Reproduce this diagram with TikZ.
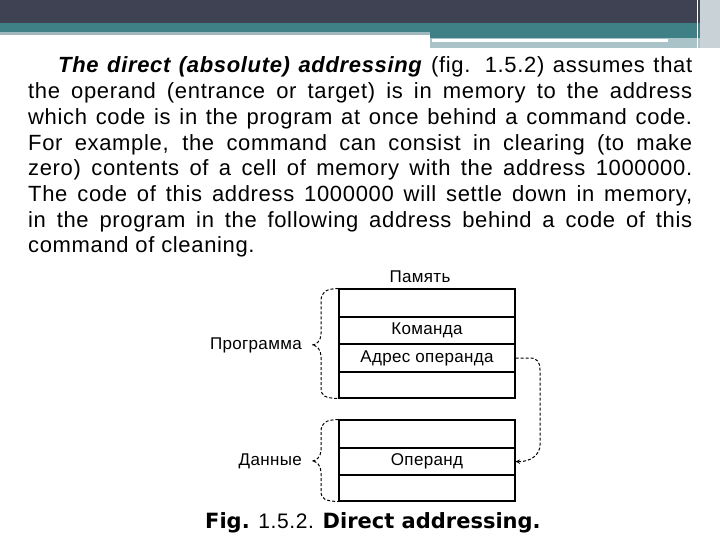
\documentclass[tikz,border=0pt]{standalone}
\usepackage{fontspec}
\setmainfont{Liberation Sans}[LetterSpace=3]
\newfontfamily\capfont{DejaVu Sans}
\newfontfamily\lblfont{Liberation Sans}[LetterSpace=2]
\begin{document}
\begin{tikzpicture}[x=1pt,y=-1pt,
  txt/.style={anchor=base west,inner sep=0pt,font=\fontsize{22}{24}\selectfont},
  lbl/.style={inner sep=0pt,font=\lblfont\fontsize{17}{19}\selectfont},
  cell/.style={draw,line width=1.1pt,minimum width=176pt,inner sep=0pt,font=\lblfont\fontsize{17}{19}\selectfont},
  dsh/.style={dashed,line width=1pt,dash pattern=on 3pt off 2pt}]
\useasboundingbox (0,0) rectangle (720,540);
\fill[white] (0,0) rectangle (720,540);
% header
\fill[fill={rgb,255:red,62;green,66;blue,83}] (0,0) rectangle (720,23);
\fill[fill={rgb,255:red,63;green,127;blue,134}] (0,23) rectangle (720,32);
\fill[fill={rgb,255:red,160;green,185;blue,192}] (0,32) rectangle (430,35);
\fill[fill={rgb,255:red,63;green,127;blue,134}] (430,32) rectangle (720,38);
\fill[fill={rgb,255:red,170;green,195;blue,200}] (430,38) rectangle (700,48);
\fill[white] (432,39) rectangle (668,42);
\fill[fill={rgb,255:red,200;green,210;blue,215}] (700,0) rectangle (720,48);
\draw[white,line width=1pt] (697,0) -- (697,48);
% text
\node[txt] (l1) at (58,73) {\makebox[634pt][s]{\textbf{\textit{The direct (absolute) addressing}} (fig. 1.5.2) assumes that}};
\node[txt] (l2) at (28,98.7) {\makebox[664pt][s]{the operand (entrance or target) is in memory to the address}};
\node[txt] (l3) at (28,124.4) {\makebox[664pt][s]{which code is in the program at once behind a command code.}};
\node[txt] (l4) at (28,150.1) {\makebox[664pt][s]{For example, the command can consist in clearing (to make}};
\node[txt] (l5) at (28,175.8) {\makebox[664pt][s]{zero) contents of a cell of memory with the address 1000000.}};
\node[txt] (l6) at (28,201.5) {\makebox[664pt][s]{The code of this address 1000000 will settle down in memory,}};
\node[txt] (l7) at (28,227.2) {\makebox[664pt][s]{in the program in the following address behind a code of this}};
\node[txt] (l8) at (28,252.9) {command of cleaning.};
% diagram
\node[lbl] (mem) at (420,277) {Память};
\node[cell,minimum height=28pt] (c1) at (427,303) {};
\node[cell,minimum height=27pt] (c2) at (427,330.5) {Команда};
\node[cell,minimum height=28pt] (c3) at (427,358) {Адрес операнда};
\node[cell,minimum height=26pt] (c4) at (427,385) {};
\node[cell,minimum height=28pt] (d1) at (427,434) {};
\node[cell,minimum height=27pt] (d2) at (427,461.5) {Операнд};
\node[cell,minimum height=26pt] (d3) at (427,488) {};
\node[lbl,anchor=east] (prog) at (302,345) {Программа};
\node[lbl,anchor=east] (dat) at (302,461) {Данные};
% braces
\coordinate (pt) at (312,345);
\draw[dsh] (c1.north west) .. controls (325,289) and (321,292) .. (321,302) -- (321,334) .. controls (321,341) and (316,345) .. (pt)
  .. controls (316,345) and (321,349) .. (321,356) -- (321,388) .. controls (321,396) and (325,398) .. (c4.south west);
\coordinate (dt) at (312,461);
\draw[dsh] (d1.north west) .. controls (325,420) and (321,423) .. (321,432) -- (321,450) .. controls (321,457) and (316,461) .. (dt)
  .. controls (316,461) and (321,465) .. (321,472) -- (321,491) .. controls (321,499) and (325,501) .. (d3.south west);
% arrow
\draw[dsh,->,>=stealth] (c3.east) -- (530,358) .. controls (537,358) and (540,362) .. (540,370) -- (540,445)
  .. controls (540,455) and (530,462) .. (d2.east);
% caption
\node[anchor=base west,inner sep=0pt] (cap) at (205,528) {\fontsize{21}{23}\selectfont{\capfont\bfseries Fig.} 1.5.2. {\capfont\bfseries Direct addressing.}};
\end{tikzpicture}
\end{document}
